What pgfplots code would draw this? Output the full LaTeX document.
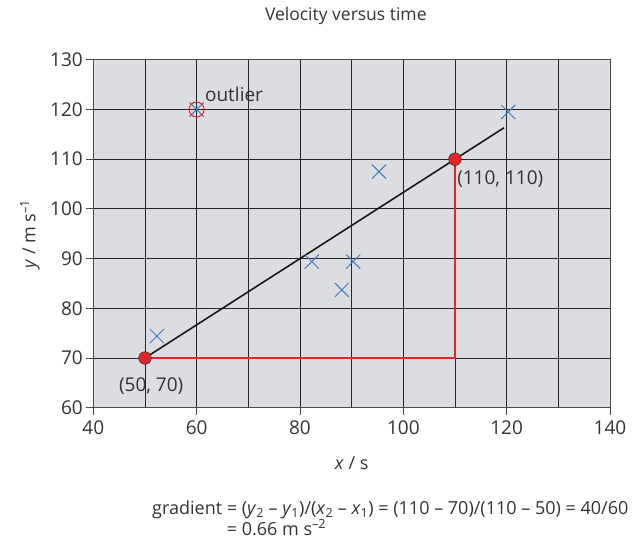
\documentclass[border=0pt]{standalone}
\usepackage{fontspec}
\setmainfont{Open Sans}
\usepackage{pgfplots}
\pgfplotsset{compat=1.18}
\definecolor{bg}{HTML}{DCDDE0}
\definecolor{txt}{HTML}{333333}
\definecolor{xblue}{HTML}{3A7CC7}
\definecolor{pred}{HTML}{E8242A}
\begin{document}
\begin{tikzpicture}
\begin{axis}[
  set layers,
  scale only axis, width=516.7pt, height=347.9pt,
  xmin=40, xmax=140, ymin=60, ymax=130,
  xtick={40,60,...,140}, minor xtick={50,70,...,130},
  ytick={60,70,...,130},
  grid=both,
  major grid style={black!85, line width=0.9pt},
  minor grid style={black!85, line width=0.9pt},
  axis line style={black!70, line width=0.9pt},
  axis background/.style={fill=bg},
  tick pos=left, tick align=outside,
  major tick length=7pt, minor tick length=0pt,
  tick style={black!70, line width=0.9pt},
  /pgf/number format/assume math mode=true,
  ticklabel style={font=\fontsize{19}{22}\selectfont, text=txt},
  xticklabel style={yshift=-2pt},
  clip=false,
]
% red triangle lines
\addplot[pred, line width=1.1pt] coordinates {(50,70) (110,70) (110,110)};
% data points
\addplot[only marks, mark=x, mark size=10pt, xblue, line width=1pt] coordinates {
  (52.3,74.4) (82.3,89.4) (90.3,89.4) (88.1,83.7) (95.3,107.5) (120.3,119.5) (60,120)
};
% outlier circle
\addplot[only marks, mark=o, mark size=7.5pt, pred, line width=1pt] coordinates {(60,120)};
% best-fit line
\addplot[black!90, line width=1.6pt] coordinates {(50,70) (119.5,116.33)};
% end points
\addplot[only marks, mark=*, mark size=6.3pt, pred, mark options={draw=black!80, fill=pred, line width=0.6pt}] coordinates {(50,70) (110,110)};
\node[anchor=west, text=txt, font=\fontsize{19}{22}\selectfont, inner sep=0pt] at (axis cs:61.6,123) {outlier};
\node[anchor=west, text=txt, font=\fontsize{19}{22}\selectfont, inner sep=0pt] at (axis cs:110.4,106) {(110, 110)};
\node[text=txt, font=\fontsize{19}{22}\selectfont, inner sep=0pt] at (axis cs:51.2,64.3) {(50, 70)};
\end{axis}
\node[text=txt, font=\fontsize{17.5}{20}\selectfont] at (252.5pt,391.7pt) {Velocity versus time};
\node[text=txt, font=\fontsize{18}{20}\selectfont] at (258.3pt,-55.3pt) {\textit{x} / s};
\node[text=txt, font=\fontsize{18}{20}\selectfont, rotate=90] at (-63.3pt,173.7pt) {\textit{y} / m s\textsuperscript{–1}};
\node[anchor=base west, text=txt, font=\fontsize{18}{21}\selectfont, inner sep=0pt] (g1) at (58.7pt,-106.5pt)
  {gradient = (\textit{y}\textsubscript{2} – \textit{y}\textsubscript{1})/(\textit{x}\textsubscript{2} – \textit{x}\textsubscript{1}) = (110 – 70)/(110 – 50) = 40/60};
\node[anchor=base west, text=txt, font=\fontsize{18}{21}\selectfont, inner sep=0pt] at (58.7pt,-127.5pt)
  {\phantom{gradient }= 0.66 m s\textsuperscript{–2}};
\pgfresetboundingbox
\path (-93.3pt,-134.3pt) rectangle (539.7pt,407.7pt);
\end{tikzpicture}
\end{document}
